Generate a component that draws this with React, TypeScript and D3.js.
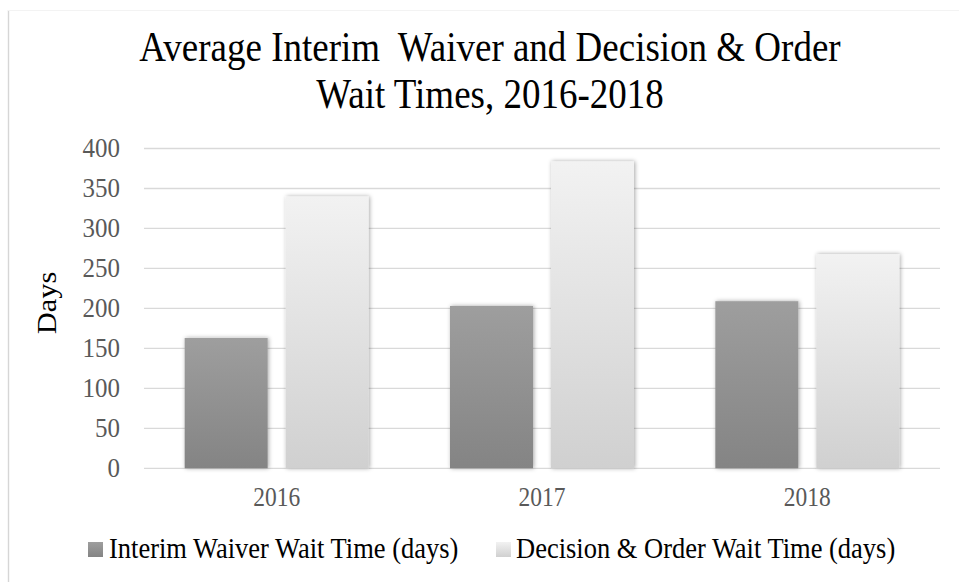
import React from "react";
import * as d3 from "d3";

const categories = ["2016", "2017", "2018"];
const seriesNames = ["Interim Waiver Wait Time (days)", "Decision & Order Wait Time (days)"];
const interimValues = [163, 203, 209];
const decisionValues = [340, 384, 268];
const yTicks = [0, 50, 100, 150, 200, 250, 300, 350, 400];
const titleLines = ["Average Interim  Waiver and Decision & Order", "Wait Times, 2016-2018"];
const yAxisTitle = "Days";

const W = 959;
const H = 582;
const FONT = "'Liberation Serif', 'Times New Roman', serif";

function SText(props: { x: number; y: number; size: number; fill: string; anchor?: string; rotate?: number; sy?: number; children: React.ReactNode }) {
  const { x, y, size, fill, anchor = "start", rotate = 0, sy = 1.12, children } = props;
  const tf = rotate
    ? `translate(${x},${y}) rotate(${rotate}) scale(${sy},1)`
    : `translate(${x},${y}) scale(1,${sy})`;
  return (
    <g transform={tf}>
      <text x={0} y={0} fontFamily={FONT} fontSize={size} fill={fill} textAnchor={anchor as any} style={{ whiteSpace: "pre" }}>
        {children}
      </text>
    </g>
  );
}

export default function App() {
  const plotLeft = 144;
  const plotRight = 940;
  const plotTop = 148.5;
  const plotBottom = 468.3;

  const x0 = d3.scaleBand<string>().domain(categories).range([plotLeft, plotRight]).paddingInner(0).paddingOuter(0);
  const y = d3.scaleLinear().domain([0, 400]).range([plotBottom, plotTop]);

  const band = x0.bandwidth();
  const barW = 83;
  const gap = 18;
  const groupW = barW * 2 + gap;
  const offsets = [(band - groupW) / 2, (band - groupW) / 2 + barW + gap];
  const series = [interimValues, decisionValues];
  const fills = ["url(#gInterim)", "url(#gDecision)"];

  return (
    <svg width={W} height={H} viewBox={`0 0 ${W} ${H}`} style={{ position: "absolute", left: 0, top: 0, background: "#fff" }}>
      <defs>
        <linearGradient id="gInterim" x1="0" y1="0" x2="0" y2="1">
          <stop offset="0" stopColor="#9e9e9e" />
          <stop offset="1" stopColor="#848484" />
        </linearGradient>
        <linearGradient id="gDecision" x1="0" y1="0" x2="0" y2="1">
          <stop offset="0" stopColor="#f2f2f2" />
          <stop offset="1" stopColor="#d0d0d0" />
        </linearGradient>
        <filter id="shadow" x="-20%" y="-10%" width="140%" height="120%">
          <feDropShadow dx="1" dy="0" stdDeviation="2.2" floodColor="#000" floodOpacity="0.35" />
        </filter>
      </defs>
      <rect x={0} y={0} width={W} height={H} fill="#fff" />
      {/* chart frame */}
      <line x1={8.5} y1={10} x2={8.5} y2={H} stroke="#d6d6d6" strokeWidth={1.4} />
      <line x1={8} y1={10.5} x2={W} y2={10.5} stroke="#f3f3f3" strokeWidth={1} />

      {/* title */}
      <SText x={490} y={60.5} size={37} sy={1.15} fill="#000" anchor="middle">{titleLines[0]}</SText>
      <SText x={490} y={108} size={37} sy={1.15} fill="#000" anchor="middle">{titleLines[1]}</SText>

      {/* gridlines */}
      {yTicks.map((v) => (
        <line key={v} x1={plotLeft} x2={plotRight} y1={y(v)} y2={y(v)} stroke="#d9d9d9" strokeWidth={1.3} />
      ))}

      {/* y tick labels */}
      {yTicks.map((v) => (
        <SText key={"t" + v} x={120} y={y(v) + 8.5} size={25} fill="#595959" anchor="end">{String(v)}</SText>
      ))}

      {/* y axis title */}
      <SText x={56} y={303} size={26.5} sy={1.15} fill="#000" anchor="middle" rotate={-90}>{yAxisTitle}</SText>

      {/* bars */}
      {series.map((vals, si) =>
        vals.map((v, ci) => (
          <rect
            key={si + "-" + ci}
            x={(x0(categories[ci]) as number) + offsets[si]}
            y={y(v)}
            width={barW}
            height={plotBottom - y(v)}
            fill={fills[si]}
            filter="url(#shadow)"
          />
        ))
      )}

      {/* category labels */}
      {categories.map((c) => (
        <SText key={c} x={(x0(c) as number) + band / 2} y={506} size={23.5} fill="#595959" anchor="middle">{c}</SText>
      ))}

      {/* legend */}
      <rect x={88} y={542} width={15} height={15} fill="url(#gInterim)" />
      <SText x={109} y={558} size={26.5} fill="#000">{seriesNames[0]}</SText>
      <rect x={496} y={542} width={15} height={15} fill="url(#gDecision)" />
      <SText x={516} y={558} size={26.5} fill="#000">{seriesNames[1]}</SText>
    </svg>
  );
}
